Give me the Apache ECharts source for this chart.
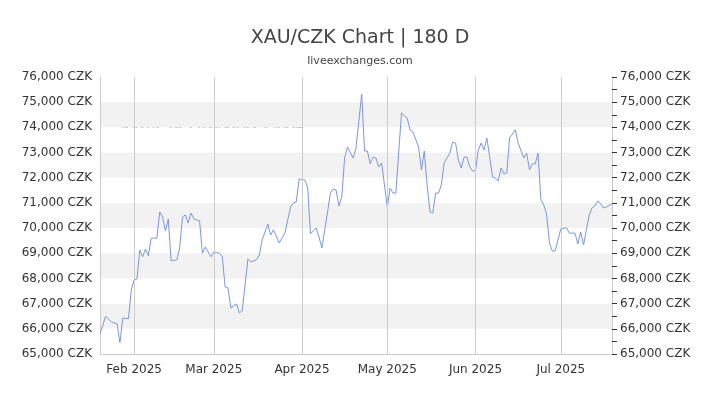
<!DOCTYPE html>
<html><head><meta charset="utf-8">
<script src="https://cdn.jsdelivr.net/npm/echarts@6/dist/echarts.min.js"></script>
<style>html,body{margin:0;padding:0;background:#fff}#c{width:720px;height:405px}</style>
</head><body><div id="c"></div>
<script>
const dates = ['2025-01-20','2025-01-22','2025-01-24','2025-01-26','2025-01-27','2025-01-28','2025-01-30','2025-01-31','2025-02-01','2025-02-02','2025-02-03','2025-02-04','2025-02-05','2025-02-06','2025-02-07','2025-02-09','2025-02-10','2025-02-11','2025-02-12','2025-02-13','2025-02-14','2025-02-16','2025-02-17','2025-02-18','2025-02-19','2025-02-20','2025-02-21','2025-02-22','2025-02-24','2025-02-25','2025-02-26','2025-02-28','2025-03-01','2025-03-03','2025-03-04','2025-03-05','2025-03-06','2025-03-07','2025-03-09','2025-03-10','2025-03-11','2025-03-13','2025-03-14','2025-03-16','2025-03-17','2025-03-18','2025-03-20','2025-03-21','2025-03-22','2025-03-24','2025-03-26','2025-03-28','2025-03-29','2025-03-30','2025-03-31','2025-04-02','2025-04-03','2025-04-04','2025-04-06','2025-04-07','2025-04-08','2025-04-10','2025-04-11','2025-04-12','2025-04-13','2025-04-14','2025-04-15','2025-04-16','2025-04-17','2025-04-19','2025-04-20','2025-04-22','2025-04-23','2025-04-24','2025-04-25','2025-04-26','2025-04-27','2025-04-28','2025-04-29','2025-05-01','2025-05-02','2025-05-03','2025-05-04','2025-05-06','2025-05-08','2025-05-09','2025-05-10','2025-05-12','2025-05-13','2025-05-14','2025-05-15','2025-05-16','2025-05-17','2025-05-18','2025-05-19','2025-05-20','2025-05-21','2025-05-23','2025-05-24','2025-05-25','2025-05-26','2025-05-27','2025-05-28','2025-05-29','2025-05-30','2025-05-31','2025-06-01','2025-06-02','2025-06-03','2025-06-04','2025-06-05','2025-06-06','2025-06-07','2025-06-08','2025-06-09','2025-06-10','2025-06-11','2025-06-12','2025-06-13','2025-06-15','2025-06-16','2025-06-18','2025-06-19','2025-06-20','2025-06-21','2025-06-22','2025-06-23','2025-06-24','2025-06-25','2025-06-26','2025-06-27','2025-06-28','2025-06-29','2025-07-01','2025-07-03','2025-07-04','2025-07-06','2025-07-07','2025-07-08','2025-07-09','2025-07-11','2025-07-12','2025-07-13','2025-07-14','2025-07-15','2025-07-16','2025-07-17','2025-07-19'];
const rates = [65800,66500,66270,66200,65450,66430,66400,67540,67940,67980,69130,68860,69170,68900,69600,69600,70640,70440,69890,70360,68700,68740,69210,70440,70520,70200,70600,70360,70290,69000,69250,68860,69050,69000,68860,67660,67620,66830,66990,66630,66710,68780,68660,68740,68930,69530,70160,69720,69930,69410,69800,70840,71000,71040,71950,71910,71630,69770,70010,69650,69210,70640,71390,71550,71510,70880,71240,72780,73220,72780,73180,75320,73060,73060,72550,72820,72780,72430,72590,70840,71590,71390,71390,74570,74370,73900,73820,73220,72310,73060,71710,70640,70600,71390,71390,71710,72590,72980,73420,73380,72700,72390,72820,72820,72430,72270,72270,73100,73380,73100,73580,72820,72030,71990,71870,72390,72150,72190,73580,73900,73380,72780,72980,72310,72550,72550,72980,71120,70920,70560,69410,69090,69090,69970,70010,69800,69800,69370,69850,69330,70520,70800,70880,71080,70960,70800,70840,70960];
const monthTicks = ['2025-02-01','2025-03-01','2025-04-01','2025-05-01','2025-06-01','2025-07-01'];
const monthNames = ['Jan','Feb','Mar','Apr','May','Jun','Jul','Aug','Sep','Oct','Nov','Dec'];
const ts = d => Date.UTC(+d.slice(0,4), +d.slice(5,7)-1, +d.slice(8,10));
const tickVals = monthTicks.map(ts);
const chart = echarts.init(document.getElementById('c'));
const yAx = (pos) => ({
  type:'value', position:pos, min:65000, max:76000, interval:1000,
  axisLabel:{formatter:'{value} CZK', color:'#333', fontSize:12, fontFamily:'DejaVu Sans', margin:8},
  axisLine:{show:true, lineStyle:{color:'#ccc'}},
  axisTick:{show:pos==='right', length:5, lineStyle:{color:'#333'}},
  minorTick:{show:pos==='right', splitNumber:2, length:5, lineStyle:{color:'#333'}},
  splitLine:{show:false},
  splitArea:{show:pos==='left', areaStyle:{color:['#ffffff','#f2f2f2']}}
});
chart.setOption({
  animation:false,
  title:{text:'XAU/CZK Chart | 180 D', subtext:'liveexchanges.com', left:'center', top:24,
    textStyle:{fontSize:19, fontWeight:'normal', color:'#444', fontFamily:'DejaVu Sans'},
    subtextStyle:{fontSize:11, color:'#444', fontFamily:'DejaVu Sans'}, itemGap:8},
  grid:{left:100, right:108, top:77, bottom:51},
  xAxis:{type:'value', min:ts('2025-01-20'), max:ts('2025-07-19'),
    axisLine:{show:true, lineStyle:{color:'#ccc'}},
    axisTick:{show:false},
    axisLabel:{customValues:tickVals, color:'#333', fontSize:12, fontFamily:'DejaVu Sans', margin:10,
      formatter:v=>{const d=new Date(v);return monthNames[d.getUTCMonth()]+' '+d.getUTCFullYear();}},
    splitLine:{show:false}},
  yAxis:[yAx('left'), yAx('right')],
  graphic:[
    {type:'text', left:120, top:124, style:{text:'XAU/CZK Exchange Chart', fill:'#000', fontSize:17, fontWeight:'bold', fontFamily:'DejaVu Sans Condensed'}, scaleX:0.85},
    {type:'text', left:382, top:129, style:{text:'ExchangeConversions.Com 2025', fill:'#1a1a70', fontSize:12, fontWeight:'bold', fontFamily:'DejaVu Sans Condensed'}, scaleX:0.82}
  ],
  series:[{type:'line', data:dates.map((d,i)=>[ts(d), rates[i]]), showSymbol:false, lineStyle:{color:'#7b98d8', width:1},
    markLine:{silent:true, symbol:['none','none'], label:{show:false}, lineStyle:{color:'#ccc', type:'solid', width:1},
      data:tickVals.map(v=>({xAxis:v}))}}]
});
</script></body></html>
